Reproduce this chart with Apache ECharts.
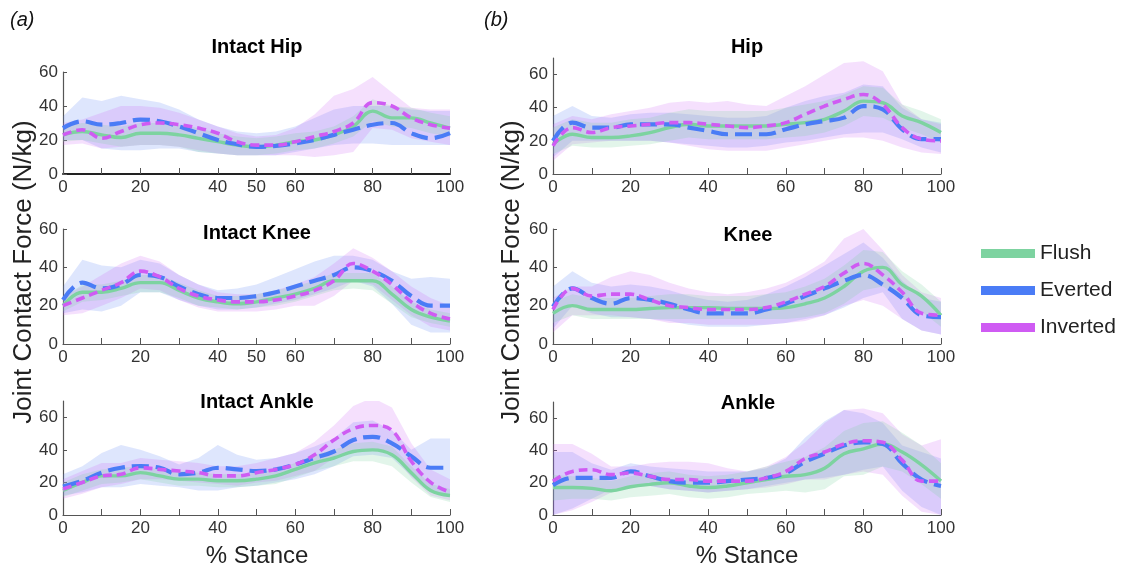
<!DOCTYPE html>
<html>
<head>
<meta charset="utf-8">
<script src="https://cdn.jsdelivr.net/npm/echarts@6/dist/echarts.min.js"></script>
<style>
  html, body { margin: 0; padding: 0; background: #fff; }
  #main { width: 1127px; height: 571px; }
</style>
</head>
<body>
<div id="main"></div>
<script>
// % stance samples
var X = [0, 5, 10, 15, 20, 25, 30, 35, 40, 45, 50, 55, 60, 65, 70, 75, 80, 85, 90, 95, 100];
var X_TICKS = [0, 10, 20, 30, 40, 50, 60, 70, 80, 90, 100];
var X_LABELS_A = [0, 20, 40, 50, 60, 80, 100];
var X_LABELS_B = [0, 20, 40, 60, 80, 100];
var Y_LABELS = [0, 20, 40, 60];
var NAMES = ['Flush', 'Everted', 'Inverted'];

// ---- Intact Hip
var intactHipFlush     = [23, 25, 23, 21.5, 24, 24, 23, 21, 19, 17, 16, 17, 19, 20, 23, 28, 37, 33, 33, 30, 27];
var intactHipFlushLo   = [19, 20, 18, 16, 17, 17, 16, 13, 12, 11, 11, 12, 14, 15, 18, 22, 31, 28, 27, 24, 22];
var intactHipFlushHi   = [28, 30, 29, 28, 30, 30, 29, 27, 24, 22, 21, 22, 24, 25, 28, 34, 44, 40, 39, 36, 34];
var intactHipEverted   = [27, 31, 29, 30, 32, 31, 28, 24, 20, 17.5, 16, 16.5, 18, 20, 23, 26, 29, 30, 24, 21, 24];
var intactHipEvertedLo = [20, 20, 15, 14, 14, 15, 15, 13, 12, 11, 11, 11, 13, 15, 17, 18, 18, 17, 17, 17, 17];
var intactHipEvertedHi = [34, 45, 43, 46, 44, 42, 38, 32, 28, 25, 24, 25, 28, 33, 38, 40, 40, 40, 38, 37, 37];
var intactHipInverted  = [23, 26, 21, 25, 29, 30, 29, 27, 24, 19, 17, 17, 19, 22, 25, 30, 42, 40, 33, 29, 27];
var intactHipInvertedLo = [17, 18, 15, 16, 17, 17, 16, 14, 12, 11, 11, 11, 11, 10, 11, 13, 27, 26, 21, 19, 17];
var intactHipInvertedHi = [30, 32, 36, 40, 40, 39, 36, 32, 28, 24, 22, 23, 27, 35, 46, 50, 57, 48, 39, 38, 38];

// ---- Intact Knee
var intactKneeFlush     = [20, 27, 27, 29, 32, 32, 28, 24, 22, 21, 22, 24, 26, 29, 33, 33, 33, 26, 18, 14, 12];
var intactKneeFlushLo   = [17, 22, 23, 25, 27, 27, 24, 20, 19, 18, 19, 20, 22, 25, 28, 29, 28, 21, 14, 11, 9];
var intactKneeFlushHi   = [24, 31, 31, 33, 36, 36, 32, 28, 25, 25, 26, 28, 30, 33, 37, 37, 37, 30, 22, 18, 16];
var intactKneeEverted   = [23, 32, 29, 31, 36, 35, 30, 26, 24, 24, 25, 27, 30, 33, 36, 40, 38, 33, 25, 20, 20];
var intactKneeEvertedLo = [16, 18, 17, 20, 27, 27, 23, 20, 18, 18, 19, 21, 23, 26, 29, 33, 30, 21, 10, 6, 6];
var intactKneeEvertedHi = [30, 44, 41, 40, 44, 42, 36, 31, 28, 29, 31, 35, 39, 43, 46, 46, 44, 38, 34, 35, 34];
var intactKneeInverted  = [20, 24, 28, 32, 38, 35, 29, 25, 23, 22, 22, 23, 25, 28, 33, 42, 38, 31, 22, 16, 13];
var intactKneeInvertedLo = [15, 16, 20, 24, 29, 28, 23, 19, 17, 17, 17, 18, 20, 20, 25, 33, 31, 23, 15, 9, 7];
var intactKneeInvertedHi = [25, 30, 36, 42, 46, 43, 36, 31, 27, 26, 26, 28, 31, 35, 42, 50, 45, 38, 30, 24, 20];

// ---- Intact Ankle
var intactAnkleFlush     = [15, 20, 24, 24, 26, 24, 22, 22, 21, 21, 22, 24, 28, 32, 35, 39, 40, 37, 26, 15, 12];
var intactAnkleFlushLo   = [11, 15, 19, 20, 22, 20, 18, 18, 17, 17, 18, 19, 23, 27, 30, 33, 33, 30, 20, 11, 8];
var intactAnkleFlushHi   = [20, 25, 28, 29, 30, 28, 27, 26, 25, 25, 26, 28, 32, 37, 40, 44, 45, 42, 30, 19, 16];
var intactAnkleEverted   = [17.5, 21, 26, 29, 30, 29, 25, 26, 29, 28, 27, 28, 31, 35, 39, 46, 48, 44, 36, 29, 29];
var intactAnkleEvertedLo = [12, 14, 17, 17, 19, 18, 17, 15, 15, 17, 18, 20, 22, 25, 30, 36, 37, 35, 24, 14, 12];
var intactAnkleEvertedHi = [25, 30, 38, 43, 40, 36, 31, 35, 43, 37, 34, 35, 38, 42, 47, 57, 58, 52, 40, 47, 47];
var intactAnkleInverted  = [16, 20, 24, 25, 29, 28, 27, 26, 24, 24, 26, 28, 31, 37, 46, 53, 55, 52, 33, 20, 14];
var intactAnkleInvertedLo = [10, 13, 17, 19, 22, 22, 21, 20, 19, 18, 20, 21, 24, 27, 35, 40, 40, 38, 23, 12, 9];
var intactAnkleInvertedHi = [22, 27, 32, 32, 35, 34, 33, 32, 30, 30, 32, 35, 38, 45, 55, 67, 72, 66, 44, 28, 22];

// ---- Hip
var hipFlush     = [18, 24, 22, 22, 23, 25, 28, 30, 29, 29, 29, 29, 30, 31, 33, 38, 44, 43, 35, 31, 25];
var hipFlushLo   = [12, 17, 16, 16, 17, 18, 20, 22, 21, 21, 21, 21, 22, 23, 25, 29, 35, 34, 28, 24, 19];
var hipFlushHi   = [28, 33, 31, 31, 33, 34, 37, 39, 38, 38, 38, 38, 40, 42, 44, 48, 53, 52, 42, 38, 33];
var hipEverted   = [20, 31, 28, 28, 30, 30, 30, 28, 26, 24, 24, 24, 27, 30, 32, 34, 41, 39, 27, 21, 21];
var hipEvertedLo = [10, 20, 20, 20, 20, 20, 19, 18, 17, 16, 16, 17, 19, 20, 22, 24, 25, 25, 21, 16, 13];
var hipEvertedHi = [35, 41, 35, 34, 36, 37, 37, 36, 35, 34, 34, 35, 40, 44, 47, 49, 54, 53, 40, 33, 31];
var hipInverted  = [17, 28, 25, 28, 29, 30, 31, 31, 30, 29, 28, 29, 31, 36, 41, 45, 48, 42, 28, 21, 20];
var hipInvertedLo = [8, 18, 19, 20, 20, 20, 19, 17, 15, 14, 14, 14, 16, 18, 20, 22, 22, 20, 16, 13, 12];
var hipInvertedHi = [30, 35, 33, 36, 38, 40, 43, 44, 43, 44, 42, 41, 47, 53, 60, 67, 68, 62, 42, 33, 30];

// ---- Knee
var kneeFlush     = [16, 20, 18, 18, 18, 18.5, 19, 19, 19, 18.5, 18.5, 18.5, 19, 21, 24, 30, 38, 40, 31, 25, 15];
var kneeFlushLo   = [11, 15, 13, 13, 13, 13, 13, 13, 13, 13, 13, 13, 13, 14, 16, 21, 28, 30, 24, 17, 9];
var kneeFlushHi   = [22, 26, 24, 24, 24, 25, 26, 26, 25, 25, 25, 26, 27, 30, 34, 41, 49, 48, 38, 31, 22];
var kneeEverted   = [19.5, 29, 24, 21, 24, 23, 21, 18, 16, 16, 16, 18, 21, 25, 29, 33, 36, 31, 24, 15, 14];
var kneeEvertedLo = [8, 20, 16, 14, 14, 13, 12, 10, 9, 9, 9, 10, 11, 13, 15, 19, 24, 27, 13, 7, 5];
var kneeEvertedHi = [30, 38, 32, 30, 31, 30, 28, 25, 23, 22, 23, 26, 30, 35, 41, 47, 53, 45, 33, 24, 22];
var kneeInverted  = [18, 29, 25, 26, 26, 23, 20, 19, 18, 18, 18, 19, 22, 26, 30, 37, 42, 36, 27, 16, 15];
var kneeInvertedLo = [6, 15, 15, 15, 14, 13, 11, 11, 10, 10, 10, 10, 11, 12, 15, 20, 23, 20, 13, 7, 5];
var kneeInvertedHi = [24, 30, 30, 35, 38, 36, 32, 29, 27, 26, 27, 29, 32, 37, 43, 55, 60, 49, 36, 27, 24];

// ---- Ankle
var ankleFlush     = [17, 17, 16.5, 15, 17.5, 19, 20, 18, 17, 18, 20, 22, 24, 25, 29, 38, 41, 44, 39, 31, 21];
var ankleFlushLo   = [9, 10, 10, 9, 11, 12, 13, 11, 10, 11, 13, 14, 15, 14, 16, 24, 25, 30, 27, 19, 10];
var ankleFlushHi   = [25, 24, 23, 21, 24, 26, 27, 25, 24, 25, 27, 30, 33, 36, 42, 52, 57, 58, 51, 43, 32];
var ankleEverted   = [18.5, 23, 23, 23, 27, 24, 21, 20, 20, 21, 22, 23, 26, 33, 38, 43, 45, 44, 32, 22, 18];
var ankleEvertedLo = [0, 4, 10, 16, 18, 18, 16, 15, 14, 15, 16, 18, 20, 22, 23, 25, 28, 30, 15, 5, 0];
var ankleEvertedHi = [39, 39, 32, 28, 32, 30, 29, 28, 27, 27, 27, 29, 35, 48, 58, 65, 63, 57, 43, 39, 35];
var ankleInverted  = [21, 27, 28, 25, 26, 24, 22, 22, 21, 21, 21, 23, 27, 35, 39, 44, 46, 45, 34, 21, 21];
var ankleInvertedLo = [0, 3, 8, 14, 17, 18, 16, 15, 14, 15, 16, 17, 19, 22, 22, 25, 27, 25, 12, 2, 0];
var ankleInvertedHi = [44, 44, 38, 30, 30, 32, 33, 33, 32, 29, 27, 30, 36, 45, 57, 65, 66, 63, 50, 43, 47];

var COLORS = ['#7dd3a0', '#4a7cf6', '#cf5bf3'];
var BAND = ['rgba(125,211,160,0.22)', 'rgba(80,120,246,0.19)', 'rgba(200,90,243,0.19)'];

var panels = [
  { title: 'Intact Hip', tx: 257, ty: 47, grid: { left: 63, top: 72, width: 387, height: 102 }, max: 60, xl: X_LABELS_A, thick: true,
    sets: [[intactHipFlush, intactHipFlushLo, intactHipFlushHi], [intactHipEverted, intactHipEvertedLo, intactHipEvertedHi], [intactHipInverted, intactHipInvertedLo, intactHipInvertedHi]] },
  { title: 'Intact Knee', tx: 257, ty: 233, grid: { left: 63, top: 229, width: 387, height: 115 }, max: 60, xl: X_LABELS_A,
    sets: [[intactKneeFlush, intactKneeFlushLo, intactKneeFlushHi], [intactKneeEverted, intactKneeEvertedLo, intactKneeEvertedHi], [intactKneeInverted, intactKneeInvertedLo, intactKneeInvertedHi]] },
  { title: 'Intact Ankle', tx: 257, ty: 402, grid: { left: 63, top: 401, width: 387, height: 114 }, max: 70, xl: X_LABELS_B,
    sets: [[intactAnkleFlush, intactAnkleFlushLo, intactAnkleFlushHi], [intactAnkleEverted, intactAnkleEvertedLo, intactAnkleEvertedHi], [intactAnkleInverted, intactAnkleInvertedLo, intactAnkleInvertedHi]] },
  { title: 'Hip', tx: 747, ty: 47, grid: { left: 553, top: 58, width: 388, height: 116 }, max: 70, xl: X_LABELS_B,
    sets: [[hipFlush, hipFlushLo, hipFlushHi], [hipEverted, hipEvertedLo, hipEvertedHi], [hipInverted, hipInvertedLo, hipInvertedHi]] },
  { title: 'Knee', tx: 748, ty: 235, grid: { left: 553, top: 229, width: 388, height: 115 }, max: 60, xl: X_LABELS_B,
    sets: [[kneeFlush, kneeFlushLo, kneeFlushHi], [kneeEverted, kneeEvertedLo, kneeEvertedHi], [kneeInverted, kneeInvertedLo, kneeInvertedHi]] },
  { title: 'Ankle', tx: 748, ty: 403, grid: { left: 553, top: 402, width: 388, height: 113 }, max: 70, xl: X_LABELS_B,
    sets: [[ankleFlush, ankleFlushLo, ankleFlushHi], [ankleEverted, ankleEvertedLo, ankleEvertedHi], [ankleInverted, ankleInvertedLo, ankleInvertedHi]] }
];

var FONT = "'Liberation Sans', Arial, sans-serif";
var grids = [], xAxes = [], yAxes = [], series = [], graphics = [];

function pairs(arr) {
  return X.map(function (x, i) { return [x, arr[i]]; });
}

// band drawn as one polygon (upper edge forward, lower edge back) through the axis scales
function bandRenderer(color) {
  return function (params, api) {
    if (params.dataIndex !== 0) return;
    var top = [], bottom = [];
    for (var i = 0; i < X.length; i++) {
      var x = api.value(0, i), lo = api.value(1, i), hi = api.value(2, i);
      top.push(api.coord([x, hi]));
      bottom.unshift(api.coord([x, lo]));
    }
    return {
      type: 'polygon',
      shape: { points: top.concat(bottom) },
      style: { fill: color },
      silent: true
    };
  };
}

panels.forEach(function (p, k) {
  grids.push(p.grid);
  xAxes.push({
    type: 'value', gridIndex: k, min: 0, max: 100,
    axisLine: { lineStyle: { color: p.thick ? '#222' : '#555', width: p.thick ? 2 : 1.2 } },
    axisTick: { inside: true, length: 6, lineStyle: { color: '#555' }, customValues: X_TICKS },
    axisLabel: { customValues: p.xl, fontSize: 17, color: '#333', fontFamily: FONT, margin: 5 },
    splitLine: { show: false }
  });
  yAxes.push({
    type: 'value', gridIndex: k, min: 0, max: p.max,
    axisLine: { show: true, lineStyle: { color: '#555', width: 1.2 } },
    axisTick: { show: true, inside: true, length: 4, lineStyle: { color: '#555' }, customValues: Y_LABELS },
    axisLabel: { customValues: Y_LABELS, fontSize: 17, color: '#333', fontFamily: FONT, margin: 5 },
    splitLine: { show: false }
  });

  // shaded bands
  [1, 2, 0].forEach(function (s) {
    var lo = p.sets[s][1], hi = p.sets[s][2];
    series.push({
      type: 'custom', xAxisIndex: k, yAxisIndex: k, silent: true, z: 1,
      clip: true,
      data: X.map(function (x, i) { return [x, lo[i], hi[i]]; }),
      encode: { x: 0, y: [1, 2] },
      renderItem: bandRenderer(BAND[s])
    });
  });

  // mean curves
  var styles = [
    { width: 3.4, type: 'solid' },
    { width: 4.2, type: [17, 7] },
    { width: 3.6, type: [9, 5] }
  ];
  [0, 1, 2].forEach(function (s) {
    series.push({
      name: NAMES[s], type: 'line', xAxisIndex: k, yAxisIndex: k, smooth: 0.4,
      data: pairs(p.sets[s][0]), symbol: 'none', z: 3 + s,
      itemStyle: { color: COLORS[s] },
      lineStyle: { color: COLORS[s], width: styles[s].width, type: styles[s].type }
    });
  });

  graphics.push({
    type: 'text', x: p.tx, y: p.ty, z: 10,
    style: { text: p.title, font: 'bold 20px ' + FONT, fill: '#000', textAlign: 'center', textVerticalAlign: 'middle' }
  });
});

// column labels and axis titles
graphics.push({ type: 'text', x: 10, y: 20, style: { text: '(a)', font: 'italic 20px ' + FONT, fill: '#111', textVerticalAlign: 'middle' } });
graphics.push({ type: 'text', x: 484, y: 20, style: { text: '(b)', font: 'italic 20px ' + FONT, fill: '#111', textVerticalAlign: 'middle' } });
[24, 512].forEach(function (x) {
  graphics.push({
    type: 'text', x: x, y: 272, rotation: Math.PI / 2,
    style: { text: 'Joint Contact Force (N/kg)', font: '26px ' + FONT, fill: '#222', textAlign: 'center', textVerticalAlign: 'middle' }
  });
});
[257, 747].forEach(function (x) {
  graphics.push({
    type: 'text', x: x, y: 556,
    style: { text: '% Stance', font: '24px ' + FONT, fill: '#222', textAlign: 'center', textVerticalAlign: 'middle' }
  });
});

var chart = echarts.init(document.getElementById('main'), null, { renderer: 'canvas' });
chart.setOption({
  animation: false,
  backgroundColor: '#fff',
  grid: grids,
  xAxis: xAxes,
  yAxis: yAxes,
  legend: {
    data: NAMES, orient: 'vertical', left: 976, top: 238,
    icon: 'rect', itemWidth: 54, itemHeight: 9, itemGap: 16,
    textStyle: { fontSize: 21, color: '#222', fontFamily: FONT }
  },
  graphic: graphics,
  series: series
});
</script>
</body>
</html>
